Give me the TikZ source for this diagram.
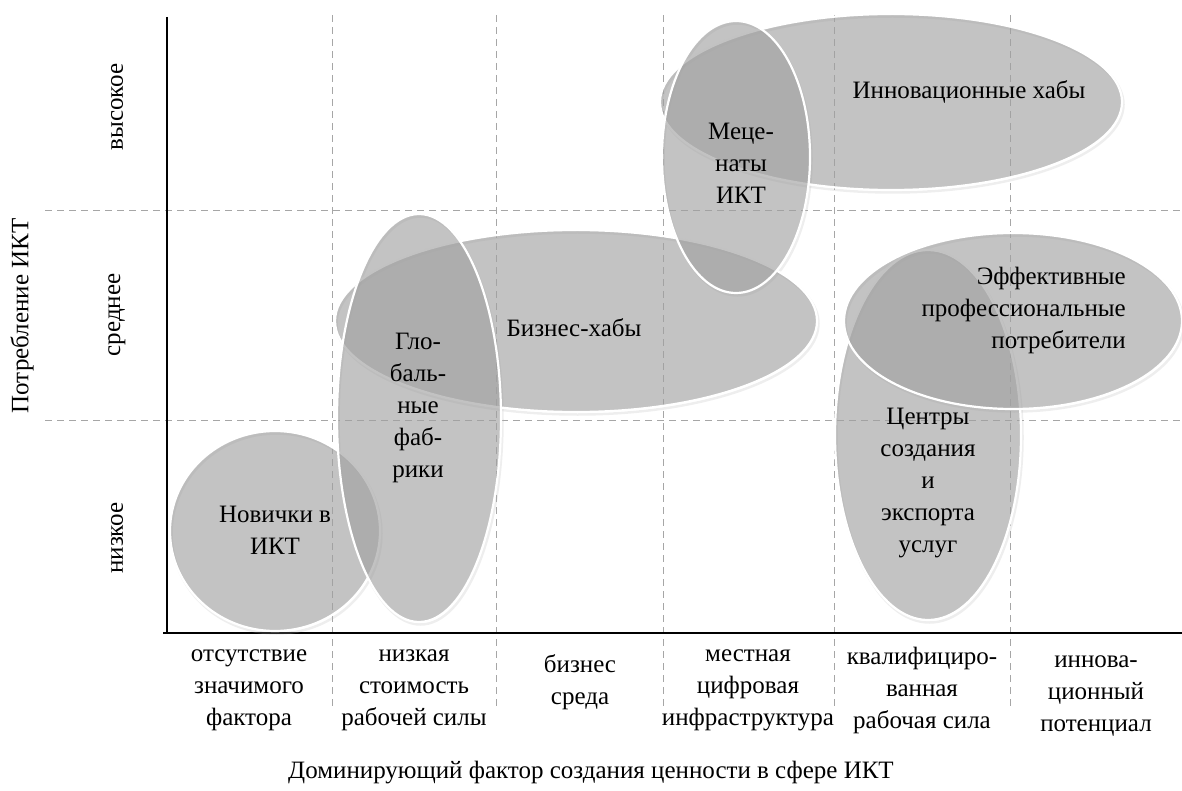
\documentclass[tikz,border=0pt]{standalone}
\usepackage{fontspec}
\setmainfont{Liberation Serif}
\newfontfamily\tmsfont{Liberation Serif}
\usetikzlibrary{shapes.geometric}
\tikzset{
  blob/.style={ellipse, draw=white, line width=2.2pt, fill=black!37, fill opacity=0.64, inner sep=0pt},
  blobshadow/.style={ellipse, draw=black!30, line width=2.5pt, draw opacity=0.22, inner sep=0pt},
  grid/.style={dashed, draw=black!35, line width=0.9pt, dash pattern=on 7pt off 5pt},
  axis/.style={line width=2.8pt, black},
  lbl/.style={align=center, inner sep=0pt, font=\tmsfont\fontsize{25}{32}\selectfont},
  lblr/.style={align=right, inner sep=0pt, font=\tmsfont\fontsize{25}{32}\selectfont},
}
\begin{document}
\begin{tikzpicture}[x=1pt,y=-1pt]
\useasboundingbox (0,0) rectangle (1182,791);
% grid
\foreach \gx [count=\i] in {332,496,663,834,1010} {
  \coordinate (vt\i) at (\gx,15); \coordinate (vb\i) at (\gx,710);
  \draw[grid] (vt\i) -- (vb\i);
}
\foreach \gy [count=\i] in {210,420} {
  \coordinate (hl\i) at (45,\gy); \coordinate (hr\i) at (1182,\gy);
  \draw[grid] (hl\i) -- (hr\i);
}
% axes
\coordinate (ytop) at (167,17);
\coordinate (orig) at (167,633);
\coordinate (oleft) at (163,633);
\coordinate (xend) at (1182,633);
\draw[axis] (ytop) -- (orig);
\draw[axis] (oleft) -- (xend);
% shadows
\foreach \cx/\cy/\rx/\ry [count=\i] in {275/531/105/100, 576/321/241/91, 419/418/82/204, 891/102/231/88, 736/157/74/136, 928/435/93/185, 1013/321/169/88} {
  \node[blobshadow, minimum width=2*\rx, minimum height=2*\ry] (sh\i) at (\cx+1.5,\cy+2.5) {};
}
% blobs
\node[blob, minimum width=210, minimum height=200] (nov) at (275,531) {};
\node[blob, minimum width=482, minimum height=182] (biz) at (576,321) {};
\node[blob, minimum width=164, minimum height=408] (glob) at (419,418) {};
\node[blob, minimum width=462, minimum height=176] (inn) at (891,102) {};
\node[blob, minimum width=148, minimum height=272] (mec) at (736,157) {};
\node[blob, minimum width=186, minimum height=370] (cen) at (928,435) {};
\node[blob, minimum width=338, minimum height=176] (eff) at (1013,321) {};
% blob labels
\node[lbl] (tnov) at (275,530) {Новички в\\ИКТ};
\node[lbl] (tbiz) at (574,328) {Бизнес-хабы};
\node[lbl] (tglob) at (418,408) {Гло-\\баль-\\ные\\фаб-\\рики};
\node[lbl] (tinn) at (969,92) {Инновационные хабы};
\node[lbl] (tmec) at (741,163) {Меце-\\наты\\ИКТ};
\node[lbl] (tcen) at (928,483) {Центры\\создания\\и\\экспорта\\услуг};
\node[lblr, anchor=east] (teff) at (1126,310) {Эффективные\\профессиональные\\потребители};
% y labels
\node[lbl, rotate=90] (yhi) at (117,107) {высокое};
\node[lbl, rotate=90] (ymid) at (117,315) {среднее};
\node[lbl, rotate=90] (ylo) at (117,538) {низкое};
\node[lbl, rotate=90] (ytitle) at (22,316) {Потребление ИКТ};
% x labels
\node[lbl] (x1) at (249,690) {отсутствие\\значимого\\фактора};
\node[lbl] (x2) at (414,690) {низкая\\стоимость\\рабочей силы};
\node[lbl] (x3) at (580,682) {бизнес\\среда};
\node[lbl] (x4) at (748,690) {местная\\цифровая\\инфраструктура};
\node[lbl] (x5) at (922,690) {квалифициро-\\ванная\\рабочая сила};
\node[lbl] (x6) at (1096,696) {иннова-\\ционный\\потенциал};
\node[lbl] (xtitle) at (591,773) {Доминирующий фактор создания ценности в сфере ИКТ};
\end{tikzpicture}
\end{document}
